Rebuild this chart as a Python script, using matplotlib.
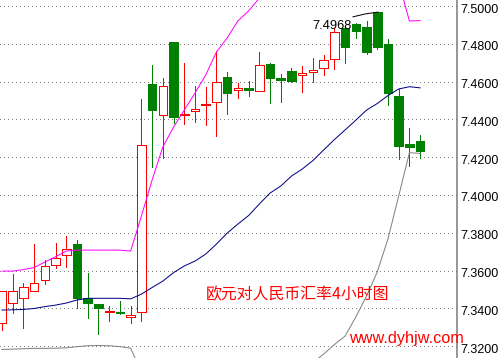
import matplotlib
matplotlib.use("Agg")
import matplotlib.pyplot as plt
from matplotlib.patches import Rectangle
from matplotlib.transforms import ScaledTranslation
import numpy as np

# EUR/CNY 4-hour candles (open, high, low, close)
opens = [7.3322, 7.3428, 7.3454, 7.3491, 7.3549, 7.3629, 7.3682, 7.3740, 7.3454, 7.3422,
         7.3383, 7.3380, 7.3352, 7.3380, 7.4587, 7.4423, 7.4809, 7.4423, 7.4446, 7.4476,
         7.4492, 7.4624, 7.4557, 7.4564, 7.4550, 7.4693, 7.4617, 7.4656, 7.4633, 7.4651,
         7.4672, 7.4721, 7.4884, 7.4905, 7.4887, 7.4968, 7.4799, 7.4524, 7.4269, 7.4285]
highs = [7.3491, 7.3581, 7.3534, 7.3740, 7.3655, 7.3745, 7.3782, 7.3761, 7.3587, 7.3422,
         7.3412, 7.3438, 7.3412, 7.4508, 7.4688, 7.4619, 7.4809, 7.4700, 7.4576, 7.4571,
         7.4762, 7.4651, 7.4592, 7.4601, 7.4756, 7.4698, 7.4640, 7.4672, 7.4682, 7.4725,
         7.4741, 7.4884, 7.4894, 7.4910, 7.4921, 7.4968, 7.4825, 7.4561, 7.4353, 7.4317]
lows = [7.3285, 7.3375, 7.3295, 7.3491, 7.3528, 7.3613, 7.3618, 7.3401, 7.3348, 7.3264,
        7.3334, 7.3368, 7.3322, 7.3332, 7.4148, 7.4195, 7.4381, 7.4377, 7.4387, 7.4372,
        7.4312, 7.4428, 7.4515, 7.4525, 7.4550, 7.4486, 7.4493, 7.4598, 7.4546, 7.4598,
        7.4635, 7.4666, 7.4700, 7.4832, 7.4744, 7.4774, 7.4476, 7.4192, 7.4155, 7.4197]
closes = [7.3491, 7.3491, 7.3512, 7.3534, 7.3624, 7.3666, 7.3714, 7.3454, 7.3428, 7.3401,
          7.3388, 7.3376, 7.3363, 7.4262, 7.4449, 7.4576, 7.4414, 7.4428, 7.4456, 7.4481,
          7.4598, 7.4539, 7.4566, 7.4554, 7.4688, 7.4619, 7.4610, 7.4603, 7.4645, 7.4661,
          7.4713, 7.4862, 7.4785, 7.4869, 7.4758, 7.4785, 7.4541, 7.4260, 7.4255, 7.4234]

# Bollinger bands
bb_upper = [7.3597, 7.3597, 7.3605, 7.3616, 7.3645, 7.3673, 7.3703, 7.3708, 7.3708, 7.3708,
            7.3708, 7.3708, 7.3703, 7.3888, 7.4079, 7.4254, 7.4359, 7.4449, 7.4539, 7.4635,
            7.4756, 7.4831, 7.4921, 7.4974, 7.5042, 7.5120, 7.5180, 7.5230, 7.5270, 7.5300,
            7.5318, 7.5378, 7.5435, 7.5438, 7.5433, 7.5376, 7.5285, 7.5128, 7.4921, 7.4923]
bb_mid = [7.3391, 7.3392, 7.3394, 7.3399, 7.3409, 7.3417, 7.3428, 7.3444, 7.3453, 7.3453,
          7.3453, 7.3453, 7.3450, 7.3475, 7.3510, 7.3544, 7.3589, 7.3624, 7.3650, 7.3687,
          7.3740, 7.3798, 7.3846, 7.3891, 7.3952, 7.4010, 7.4047, 7.4100, 7.4137, 7.4182,
          7.4238, 7.4293, 7.4344, 7.4396, 7.4449, 7.4484, 7.4526, 7.4561, 7.4573, 7.4567]
bb_lower = [7.3182, 7.3184, 7.3186, 7.3188, 7.3188, 7.3189, 7.3191, 7.3197, 7.3202, 7.3203,
            7.3202, 7.3197, 7.3189, 7.3062, 7.2941, 7.2834, 7.2819, 7.2799, 7.2761, 7.2739,
            7.2724, 7.2765, 7.2771, 7.2808, 7.2862, 7.2900, 7.2914, 7.2970, 7.3004, 7.3112,
            7.3158, 7.3208, 7.3253, 7.3354, 7.3465, 7.3592, 7.3767, 7.3994, 7.4224, 7.4220]

# short line near the session high
peak_line_x = [32.74, 33.86, 35.07]
peak_line_y = [7.4943, 7.4958, 7.4968]

price_ticks = [7.32, 7.34, 7.36, 7.38, 7.40, 7.42, 7.44, 7.46, 7.48, 7.50]

title_text = "欧元对人民币汇率4小时图"
site_text = "www.dyhjw.com"

RED = "#ff0000"
GREEN = "#008000"
MAGENTA = "#ff00ff"
NAVY = "#000080"
GRAY = "#808080"

W, H, DPI = 500, 358, 100
PX = 72.0 / DPI  # one pixel in points

fig = plt.figure(figsize=(W / DPI, H / DPI), dpi=DPI)
fig.patch.set_facecolor("white")
ax = fig.add_axes([0, 0, 457 / W, 1])

x = np.arange(len(opens))
body_w = 0.8

for i in x:
    o, h, l, c = opens[i], highs[i], lows[i], closes[i]
    up = c >= o
    col = RED if up else GREEN
    ax.vlines(i, l, h, color=col, lw=PX, zorder=2, antialiased=False)
    ax.add_patch(Rectangle((i - body_w / 2, min(o, c)), body_w, abs(c - o),
                           facecolor="white" if up else col, edgecolor=col,
                           lw=PX, zorder=3, antialiased=False))

ax.plot(x, bb_upper, color=MAGENTA, lw=PX, zorder=4)
ax.plot(x, bb_mid, color=NAVY, lw=PX, zorder=4)
ax.plot(x, bb_lower, color=GRAY, lw=PX, zorder=4)
ax.plot(peak_line_x, peak_line_y, color="black", lw=PX, zorder=4)

ax.set_xlim(-0.187, 42.44)
ax.set_ylim(7.3137, 7.5032)

ax.set_yticks(price_ticks)
ax.set_xticks([])
ax.tick_params(axis="y", length=0, labelleft=False, labelright=False)
ax.yaxis.grid(True, linestyle=(0, (1, 3)), color=GRAY, lw=PX, antialiased=False)
ax.set_axisbelow(True)

for s in ("left", "top", "bottom"):
    ax.spines[s].set_visible(False)
ax.spines["right"].set_color(GRAY)
ax.spines["right"].set_linewidth(1.6 * PX)

lab_tr = ax.get_yaxis_transform() + ScaledTranslation(3 / DPI, -3.5 / DPI, fig.dpi_scale_trans)
for t in price_ticks:
    ax.text(1.0, t, f"{t:.4f}", transform=lab_tr, ha="left", va="center",
            fontsize=9, family="Liberation Sans", color="black", clip_on=False)

# highest high label
i_max = int(np.argmax(highs))
ax.annotate(f"{highs[i_max]:.4f}", xy=(i_max, highs[i_max]), xytext=(-25.2, -13.5),
            textcoords="offset pixels", ha="right", va="center", fontsize=9.3,
            family="Liberation Sans", color="black", zorder=6)

fig.text(298 / W, 1 - 295 / H, title_text, color=RED, fontsize=11.4,
         family=["Noto Sans CJK SC", "DejaVu Sans"], ha="center", va="center")
fig.text(406 / W, 1 - 343 / H, site_text, color=RED, fontsize=11.7,
         family="Liberation Sans", ha="center", va="baseline")

fig.savefig("out.png", dpi=DPI, facecolor="white")
